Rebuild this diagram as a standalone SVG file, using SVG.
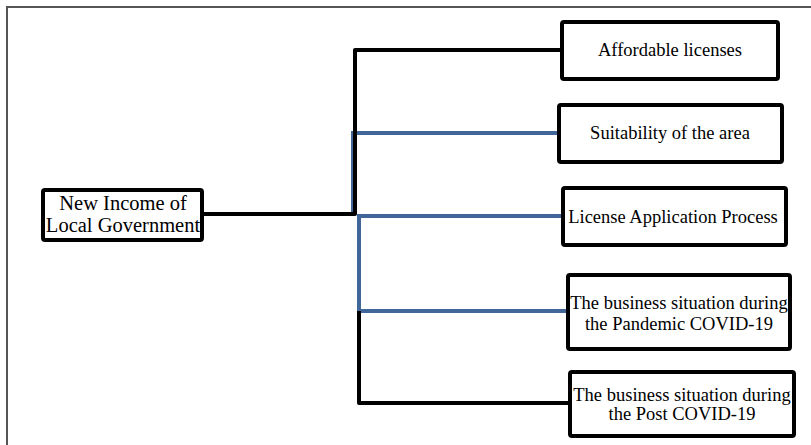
<svg xmlns="http://www.w3.org/2000/svg" width="811" height="445" viewBox="0 0 811 445">
<style>
.box{fill:#fff;stroke:#000;stroke-width:4;stroke-linejoin:round}
.t{font-family:"Liberation Serif","Times New Roman",serif;font-size:18.5px;fill:#000;text-anchor:middle}
.r{font-size:20.5px}
.k{fill:none;stroke:#000;stroke-width:4;stroke-linejoin:round}
.b{fill:none;stroke:#41679a;stroke-width:4;stroke-linejoin:miter}
</style>
<rect width="811" height="445" fill="#fff"/>
<g id="frame">
<path d="M7 445 V7 H811" fill="none" stroke="#555" stroke-width="2"/>
</g>
<g id="connectors">
<path class="b" d="M557 133 H353 V215"/>
<path class="b" d="M561 216 H359 V311 H567"/>
<path class="k" d="M204 214 H355 V50 H560"/>
<path class="k" d="M359 311 V403 H568"/>
</g>
<g id="root">
<rect class="box" x="43" y="190" width="159" height="50" rx="2"/>
<text class="t r" x="123" y="210">New Income of</text>
<text class="t r" x="123" y="232">Local Government</text>
</g>
<g id="n1">
<rect class="box" x="562" y="22" width="216" height="57" rx="2"/>
<text class="t" x="670" y="56">Affordable licenses</text>
</g>
<g id="n2">
<rect class="box" x="559" y="105" width="223" height="57" rx="2"/>
<text class="t" x="670" y="139">Suitability of the area</text>
</g>
<g id="n3">
<rect class="box" x="563" y="188" width="223" height="57" rx="2"/>
<text class="t" x="673" y="223">License Application Process</text>
</g>
<g id="n4">
<rect class="box" x="568" y="275" width="222" height="74" rx="2"/>
<text class="t" x="679" y="309">The business situation during</text>
<text class="t" x="679" y="330">the Pandemic COVID-19</text>
</g>
<g id="n5">
<rect class="box" x="570" y="372" width="224" height="64" rx="2"/>
<text class="t" x="682" y="401">The business situation during</text>
<text class="t" x="682" y="420">the Post COVID-19</text>
</g>
</svg>
